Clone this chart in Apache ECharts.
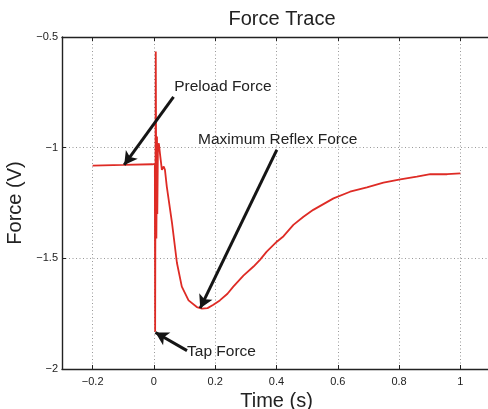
<!DOCTYPE html>
<html>
<head>
<meta charset="utf-8">
<script src="https://cdn.jsdelivr.net/npm/echarts@6/dist/echarts.min.js"></script>
<style>
  html, body { margin: 0; padding: 0; background: #fff; }
  #chart { width: 488px; height: 409px; }
</style>
</head>
<body>
<div id="chart"></div>
<script>
// force trace
const timeS = [-0.2, -0.1, -0.005, 0.003, 0.004, 0.006, 0.008, 0.010, 0.011, 0.013, 0.016, 0.020,
  0.026, 0.032, 0.036, 0.042, 0.059, 0.075, 0.091, 0.113, 0.140, 0.157, 0.175, 0.194, 0.215,
  0.240, 0.259, 0.292, 0.325, 0.346, 0.368, 0.401, 0.423, 0.455, 0.488, 0.520, 0.586, 0.640,
  0.695, 0.749, 0.804, 0.858, 0.902, 0.957, 1.0];
const forceV = [-1.081, -1.078, -1.075, -1.073, -1.832, -0.566, -1.41, -0.95, -1.30, -1.0, -0.98, -1.03,
  -1.10, -1.085, -1.10, -1.176, -1.34, -1.52, -1.628, -1.69, -1.72, -1.727, -1.725, -1.71, -1.69,
  -1.66, -1.628, -1.578, -1.537, -1.507, -1.47, -1.425, -1.40, -1.349, -1.312, -1.281, -1.229, -1.199,
  -1.179, -1.158, -1.143, -1.131, -1.12, -1.12, -1.116];

const xTicks = [-0.2, 0, 0.2, 0.4, 0.6, 0.8, 1];
const yTicks = [-2, -1.5, -1, -0.5];

// annotations: label, arrow start, arrow tip, text anchor
const notes = [
  { name: 'Preload Force', from: [0.064, -0.77], to: [-0.097, -1.078], text: [0.066, -0.724], align: 'left' },
  { name: 'Maximum Reflex Force', from: [0.401, -1.01], to: [0.151, -1.725], text: [0.404, -0.962], align: 'center' },
  { name: 'Tap Force', from: [0.108, -1.917], to: [0.005, -1.835], text: [0.108, -1.921], align: 'left' }
];

const minus = v => String(v).replace('-', '\u2212');
const FONT = '"Liberation Sans", Arial, sans-serif';

const chart = echarts.init(document.getElementById('chart'));
const option = {
  animation: false,
  backgroundColor: '#fff',
  title: {
    text: 'Force Trace',
    left: 277,
    top: 4,
    textAlign: 'center',
    textStyle: { fontFamily: FONT, fontSize: 20, fontWeight: 'normal', color: '#222' }
  },
  grid: { left: 62, top: 37, right: -3, bottom: 40, outerBoundsMode: 'none', containLabel: false },
  xAxis: [{
    type: 'value', min: -0.3, max: 1.1, interval: 0.1,
    name: 'Time (s)', nameLocation: 'middle', nameGap: 15,
    nameTextStyle: { fontFamily: FONT, fontSize: 20, color: '#222' },
    axisLine: { onZero: false, lineStyle: { color: '#222', width: 1.4 } },
    axisTick: { inside: true, length: 4, lineStyle: { color: '#222' }, customValues: xTicks },
    axisLabel: { fontFamily: FONT, fontSize: 11, color: '#222', margin: 7,
      customValues: xTicks, formatter: minus },
    splitLine: { show: true, lineStyle: { color: '#999', type: [1, 2.5], width: 1 } }
  }, {
    type: 'value', position: 'top', min: -0.3, max: 1.1, interval: 0.1,
    axisLine: { onZero: false, lineStyle: { color: '#222', width: 1.4 } },
    axisTick: { inside: true, length: 4, lineStyle: { color: '#222' }, customValues: xTicks },
    axisLabel: { show: false },
    splitLine: { show: false }
  }],
  yAxis: [{
    type: 'value', min: -2, max: -0.5, interval: 0.5,
    name: 'Force (V)', nameLocation: 'middle', nameGap: 25,
    nameTextStyle: { fontFamily: FONT, fontSize: 20, color: '#222' },
    axisLine: { show: true, onZero: false, lineStyle: { color: '#222', width: 1.4 } },
    axisTick: { show: true, inside: true, length: 4, lineStyle: { color: '#222' } },
    axisLabel: { fontFamily: FONT, fontSize: 11, color: '#222', margin: 4, formatter: minus,
      customValues: yTicks },
    splitLine: { show: true, lineStyle: { color: '#999', type: [1, 2.5], width: 1 } }
  }],
  series: [{
    type: 'line',
    data: timeS.map((t, i) => [t, forceV[i]]),
    showSymbol: false,
    lineStyle: { color: '#de2b25', width: 1.8 },
    z: 3
  }, {
    type: 'line',
    data: [],
    markLine: {
      silent: true,
      symbol: ['none', 'arrow'],
      symbolSize: [11, 13],
      lineStyle: { color: '#151515', width: 3, type: 'solid' },
      label: { show: false },
      data: notes.map(n => [{ coord: n.from }, { coord: n.to }])
    },
    markPoint: {
      silent: true,
      symbol: 'circle',
      symbolSize: 0,
      data: notes.map(n => ({
        coord: n.text,
        label: {
          show: true, formatter: n.name, position: 'inside', align: n.align,
          verticalAlign: 'middle',
          fontFamily: FONT, fontSize: 15.5, color: '#222'
        }
      }))
    },
    z: 4
  }]
};
chart.setOption(option);
</script>
</body>
</html>
